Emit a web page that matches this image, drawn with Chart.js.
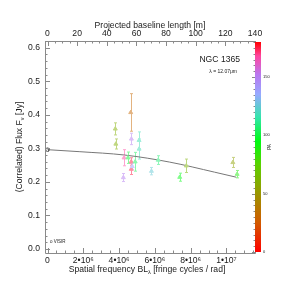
<!DOCTYPE html>
<html>
<head>
<meta charset="utf-8">
<script src="https://cdn.jsdelivr.net/npm/chart.js@4.4.0/dist/chart.umd.min.js"></script>
<style>
html, body { margin: 0; padding: 0; background: #fff; }
#wrap { width: 299px; height: 294px; }
</style>
</head>
<body>
<div id="wrap"><canvas id="myChart"></canvas></div>
<script>
// Data: spatial frequency in units of 1e6 cycles/rad, flux in Jy, PA in deg
const freq     = [3.79, 3.82, 4.65, 4.69, 5.12, 5.12, 4.28, 4.50, 4.68, 4.68, 4.74, 4.90, 4.24, 5.81, 6.19, 7.39, 7.76, 10.36, 10.60];
const flux     = [0.358, 0.313, 0.407, 0.328, 0.324, 0.298, 0.272, 0.272, 0.260, 0.238, 0.246, 0.260, 0.213, 0.232, 0.265, 0.214, 0.248, 0.258, 0.223];
const fluxErr  = [0.018, 0.015, 0.056, 0.017, 0.025, 0.030, 0.024, 0.017, 0.012, 0.016, 0.010, 0.028, 0.012, 0.011, 0.013, 0.012, 0.020, 0.015, 0.011];
const posAngle = [60, 60, 30, 150, 118, 118, 168, 100, 175, 175, 140, 105, 150, 125, 108, 95, 62, 55, 88];

const visirFreq = [0];
const visirFlux = [0.296];
const visirErr  = [0.005];

// model curve
const modelFreq = [0, 1.81, 4.32, 6.83, 9.34, 10.55];
const modelFlux = [0.296, 0.290, 0.280, 0.259, 0.229, 0.214];

// axes
const LAMBDA = 12.07e-6;
const xMin = -0.14, xMax = 11.599;
const yMin = -0.012, yMax = 0.62;
const xTicks = [0, 2, 4, 6, 8, 10];
const topTicks = [0, 20, 40, 60, 80, 100, 120, 140];
const yTicks = [0, 0.1, 0.2, 0.3, 0.4, 0.5, 0.6];
const paTicks = [0, 50, 100, 150];

const FONT = "'Liberation Sans', Arial, Helvetica, sans-serif";
const TEXT = '#1a1a1a';
const AXIS = '#8a8a8a';

// Colormap for position angle (0..180)
const CMAP = [
    [0, [255, 0, 0]],
    [25, [210, 90, 0]],
    [50, [155, 150, 0]],
    [75, [90, 210, 0]],
    [95, [0, 250, 20]],
    [115, [50, 230, 170]],
    [135, [150, 170, 255]],
    [152, [185, 120, 240]],
    [168, [255, 70, 160]],
    [180, [255, 0, 0]],
];

function paColor(pa, fade) {
    let c = CMAP[CMAP.length - 1][1];
    for (let i = 0; i < CMAP.length - 1; i++) {
        const a = CMAP[i], b = CMAP[i + 1];
        if (pa >= a[0] && pa <= b[0]) {
            const t = (pa - a[0]) / (b[0] - a[0]);
            c = a[1].map((v, k) => v + (b[1][k] - v) * t);
            break;
        }
    }
    c = c.map(v => Math.round(v + (255 - v) * fade));
    return 'rgb(' + c.join(',') + ')';
}

const pointColors = posAngle.map(pa => paColor(pa, 0.5));

function drawRich(ctx, parts, x, y, size) {
    let w = 0;
    parts.forEach(p => {
        ctx.font = (p.sub ? size * 0.65 : size) + 'px ' + FONT;
        p.w = ctx.measureText(p.t).width;
        w += p.w;
    });
    let cx = x - w / 2;
    ctx.textAlign = 'left';
    ctx.textBaseline = 'middle';
    parts.forEach(p => {
        ctx.font = (p.sub ? size * 0.65 : size) + 'px ' + FONT;
        ctx.fillText(p.t, cx, y + (p.sub ? size * 0.3 : 0));
        cx += p.w;
    });
}

const decorations = {
    id: 'decorations',
    beforeDatasetsDraw(chart) {
        const ctx = chart.ctx;
        const xs = chart.scales.x, ys = chart.scales.y;
        ctx.save();
        ctx.lineWidth = 1;
        // error bars
        freq.forEach((f, i) => {
            const px = Math.round(xs.getPixelForValue(f)) + 0.5;
            const y1 = ys.getPixelForValue(flux[i] - fluxErr[i]);
            const y2 = ys.getPixelForValue(flux[i] + fluxErr[i]);
            ctx.strokeStyle = pointColors[i];
            ctx.beginPath();
            ctx.moveTo(px, y1); ctx.lineTo(px, y2);
            ctx.moveTo(px - 1.5, y1); ctx.lineTo(px + 1.5, y1);
            ctx.moveTo(px - 1.5, y2); ctx.lineTo(px + 1.5, y2);
            ctx.stroke();
        });
        visirFreq.forEach((f, i) => {
            const px = Math.round(xs.getPixelForValue(f)) + 0.5;
            ctx.strokeStyle = '#555';
            ctx.beginPath();
            ctx.moveTo(px, ys.getPixelForValue(visirFlux[i] - visirErr[i]));
            ctx.lineTo(px, ys.getPixelForValue(visirFlux[i] + visirErr[i]));
            ctx.stroke();
        });
        ctx.restore();
    },
    afterDraw(chart) {
        const ctx = chart.ctx;
        const a = chart.chartArea;
        const xs = chart.scales.x, x2 = chart.scales.x2, ys = chart.scales.y;
        ctx.save();
        ctx.strokeStyle = AXIS;
        ctx.lineWidth = 1;
        ctx.beginPath();
        // frame
        ctx.rect(Math.round(a.left) + 0.5, Math.round(a.top) + 0.5, Math.round(a.right - a.left), Math.round(a.bottom - a.top));
        // bottom ticks
        for (let v = 0; v <= xMax; v += 0.5) {
            const px = Math.round(xs.getPixelForValue(v)) + 0.5;
            const len = Math.abs(v % 2) < 1e-6 ? 5 : 2.5;
            ctx.moveTo(px, a.bottom); ctx.lineTo(px, a.bottom - len);
        }
        // top ticks
        for (let v = 0; v <= 140; v += 5) {
            const px = Math.round(x2.getPixelForValue(v)) + 0.5;
            const len = v % 20 === 0 ? 5 : 2.5;
            ctx.moveTo(px, a.top); ctx.lineTo(px, a.top + len);
        }
        // left ticks
        for (let k = 0; k <= 31; k++) {
            const v = k * 0.02;
            const py = Math.round(ys.getPixelForValue(v)) + 0.5;
            const len = k % 5 === 0 ? 5 : 2.5;
            ctx.moveTo(a.left, py); ctx.lineTo(a.left + len, py);
        }
        ctx.stroke();

        // colour bar
        const cbL = a.right, cbW = 6, cbT = a.top + 1, cbB = a.bottom - 1;
        const grad = ctx.createLinearGradient(0, cbB, 0, cbT);
        CMAP.forEach(s => grad.addColorStop(s[0] / 180, 'rgb(' + s[1].join(',') + ')'));
        ctx.fillStyle = grad;
        ctx.fillRect(cbL, cbT, cbW, cbB - cbT);
        ctx.beginPath();
        for (let v = 0; v <= 180; v += 5) {
            const py = Math.round(cbB - (cbB - cbT) * v / 180) + 0.5;
            const len = v % 50 === 0 ? 3 : 1.5;
            ctx.moveTo(cbL, py); ctx.lineTo(cbL - len, py);
        }
        ctx.stroke();
        ctx.fillStyle = TEXT;
        ctx.font = '4px ' + FONT;
        ctx.textAlign = 'left';
        ctx.textBaseline = 'middle';
        paTicks.forEach(v => {
            ctx.fillText(String(v), cbL + cbW + 2, cbB - (cbB - cbT) * v / 180);
        });
        ctx.save();
        ctx.translate(270, (cbT + cbB) / 2);
        ctx.rotate(-Math.PI / 2);
        ctx.textAlign = 'center';
        ctx.font = '4.5px ' + FONT;
        ctx.fillText('PA', 0, 0);
        ctx.restore();

        // axis titles with subscripts
        ctx.fillStyle = TEXT;
        drawRich(ctx, [{t: 'Spatial frequency BL'}, {t: 'λ', sub: true}, {t: ' [fringe cycles / rad]'}],
            (a.left + a.right) / 2 - 3, 270, 8.6);
        ctx.save();
        ctx.translate(20, (a.top + a.bottom) / 2);
        ctx.rotate(-Math.PI / 2);
        drawRich(ctx, [{t: '(Correlated) Flux F'}, {t: 'ν', sub: true}, {t: ' [Jy]'}], 0, 0, 8.6);
        ctx.restore();

        // annotations
        ctx.textAlign = 'right';
        ctx.textBaseline = 'middle';
        ctx.font = '8.6px ' + FONT;
        ctx.fillText('NGC 1365', 240, 60);
        ctx.font = '5px ' + FONT;
        ctx.fillText('λ = 12.07μm', 237, 72);
        ctx.textAlign = 'left';
        ctx.font = '4.5px ' + FONT;
        ctx.fillText('o VISIR', 50, 242);
        ctx.restore();
    }
};

const data = {
    datasets: [{
        type: 'line',
        label: 'model',
        data: modelFreq.map((f, i) => ({x: f, y: modelFlux[i]})),
        borderColor: '#777',
        borderWidth: 1,
        pointRadius: 0,
        cubicInterpolationMode: 'monotone',
        order: 3,
    }, {
        type: 'scatter',
        label: 'MIDI',
        data: freq.map((f, i) => ({x: f, y: flux[i]})),
        pointStyle: 'triangle',
        pointRadius: 2.3,
        borderWidth: 1,
        backgroundColor: pointColors,
        borderColor: pointColors,
        order: 1,
    }, {
        type: 'scatter',
        label: 'VISIR',
        data: visirFreq.map((f, i) => ({x: f, y: visirFlux[i]})),
        pointStyle: 'circle',
        pointRadius: 1.8,
        borderWidth: 1,
        backgroundColor: 'rgba(0,0,0,0)',
        borderColor: '#555',
        order: 2,
    }]
};

const tickFont = {family: FONT, size: 8.6};

const config = {
    type: 'scatter',
    data: data,
    options: {
        responsive: true,
        maintainAspectRatio: false,
        animation: false,
        layout: {padding: {right: 44}},
        plugins: {legend: {display: false}, tooltip: {enabled: false}},
        scales: {
            x: {
                type: 'linear',
                position: 'bottom',
                min: xMin,
                max: xMax,
                grid: {display: false, drawTicks: false},
                border: {display: false},
                afterBuildTicks: s => { s.ticks = xTicks.map(v => ({value: v})); },
                afterFit: s => { s.height = 41; },
                ticks: {
                    color: TEXT,
                    font: tickFont,
                    padding: 2,
                    maxRotation: 0,
                    callback: v => v === 0 ? '0' : (v < 10 ? v + '•10⁶' : (v / 10) + '•10⁷')
                }
            },
            x2: {
                type: 'linear',
                position: 'top',
                min: xMin * 1e6 * LAMBDA,
                max: xMax * 1e6 * LAMBDA,
                grid: {display: false, drawTicks: false},
                border: {display: false},
                afterBuildTicks: s => { s.ticks = topTicks.map(v => ({value: v})); },
                afterFit: s => { s.height = 41; },
                title: {display: true, text: 'Projected baseline length [m]', color: TEXT, font: tickFont, padding: {top: 20, bottom: 0}},
                ticks: {color: TEXT, font: tickFont, padding: 2, maxRotation: 0}
            },
            y: {
                type: 'linear',
                min: yMin,
                max: yMax,
                grid: {display: false, drawTicks: false},
                border: {display: false},
                afterBuildTicks: s => { s.ticks = yTicks.map(v => ({value: v})); },
                afterFit: s => { s.width = 45; },
                ticks: {color: TEXT, font: tickFont, padding: 5, callback: v => v.toFixed(1)}
            }
        }
    },
    plugins: [decorations]
};

const myChart = new Chart(document.getElementById('myChart'), config);
</script>
</body>
</html>
